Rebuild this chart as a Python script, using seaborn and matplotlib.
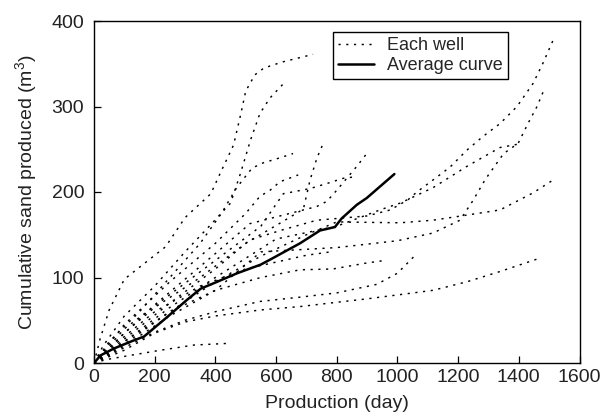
import numpy as np
import pandas as pd
import matplotlib
matplotlib.use("Agg")
import matplotlib.pyplot as plt
import seaborn as sns

# ---- data ----
well_a_day = [0, 20, 50, 100, 150, 236, 300, 385, 420, 460, 483, 500, 530, 560, 620, 722]
well_a_sand = [0, 28, 62, 98, 112, 136, 170, 198, 225, 255, 290, 318, 337, 345, 352, 361]
well_b_day = [0, 30, 100, 200, 300, 380, 450, 483, 516, 547, 580, 633]
well_b_sand = [0, 20, 55, 90, 130, 160, 187, 222, 261, 292, 310, 330]
well_c_day = [0, 50, 150, 250, 350, 420, 470, 521, 557, 613, 656]
well_c_sand = [0, 25, 60, 100, 140, 175, 205, 228, 234, 240, 245]
well_d_day = [0, 100, 200, 350, 500, 620, 690, 712, 735, 758]
well_d_sand = [0, 35, 65, 100, 140, 165, 180, 214, 240, 259]
well_e_day = [0, 100, 200, 300, 400, 514, 624, 734, 767, 800, 833, 866, 899]
well_e_sand = [0, 35, 68, 98, 128, 163, 173, 183, 189, 202, 216, 230, 245]
well_f_day = [0, 100, 250, 400, 550, 624, 712, 768, 821, 866]
well_f_sand = [0, 40, 80, 120, 160, 198, 204, 210, 216, 218]
well_g_day = [0, 100, 250, 400, 500, 547, 580, 613, 673]
well_g_sand = [0, 45, 95, 140, 175, 195, 202, 212, 220]
well_h_day = [0, 100, 250, 400, 514, 624, 734, 900, 976, 1035, 1064, 1117, 1173, 1229,
              1282, 1338, 1394, 1447, 1480, 1516]
well_h_sand = [0, 28, 70, 110, 144, 156, 167, 172, 179, 191, 200, 214, 229, 249,
               265, 280, 300, 327, 351, 380]
well_i_day = [0, 100, 250, 400, 550, 800, 1000, 1117, 1206, 1249, 1290, 1350, 1398, 1430, 1460, 1480]
well_i_sand = [0, 20, 55, 85, 130, 135, 143, 152, 167, 190, 215, 245, 257, 280, 300, 317]
well_j_day = [0, 100, 250, 400, 600, 800, 950, 1009, 1117, 1229, 1338, 1398]
well_j_sand = [0, 25, 65, 100, 145, 160, 180, 187, 205, 230, 252, 256]
well_k_day = [0, 100, 250, 400, 550, 700, 800, 1009, 1117, 1229, 1338, 1447, 1513]
well_k_sand = [0, 22, 60, 95, 125, 150, 165, 164, 167, 173, 179, 199, 214]
well_l_day = [0, 100, 200, 300, 400, 547, 679, 800, 899, 1009, 1117, 1229, 1338, 1464]
well_l_sand = [0, 15, 35, 48, 55, 62, 66, 71, 75, 80, 85, 95, 107, 122]
well_m_day = [0, 100, 200, 300, 400, 547, 679, 800, 932, 1000, 1053]
well_m_sand = [0, 18, 36, 50, 60, 72, 77, 82, 92, 105, 124]
well_n_day = [0, 40, 88, 220, 330, 444]
well_n_sand = [0, 4, 7, 15, 21, 23]
well_o_day = [0, 100, 250, 400, 550, 679, 788, 899, 960]
well_o_sand = [0, 25, 60, 85, 100, 109, 110, 117, 120]
well_p_day = [0, 80, 200, 350, 500, 600, 700, 780]
well_p_sand = [0, 25, 60, 90, 110, 118, 126, 130]

avg_day = [0, 22, 66, 121, 165, 242, 307, 352, 406, 472, 549, 586, 679, 745, 794, 816, 866, 899, 990]
avg_sand = [0, 9, 17, 25, 31, 54, 74, 87, 95, 105, 115, 122, 140, 155, 159, 169, 185, 193, 221]

wells = {
    "a": (well_a_day, well_a_sand), "b": (well_b_day, well_b_sand),
    "c": (well_c_day, well_c_sand), "d": (well_d_day, well_d_sand),
    "e": (well_e_day, well_e_sand), "f": (well_f_day, well_f_sand),
    "g": (well_g_day, well_g_sand), "h": (well_h_day, well_h_sand),
    "i": (well_i_day, well_i_sand), "j": (well_j_day, well_j_sand),
    "k": (well_k_day, well_k_sand), "l": (well_l_day, well_l_sand),
    "m": (well_m_day, well_m_sand), "n": (well_n_day, well_n_sand),
    "o": (well_o_day, well_o_sand), "p": (well_p_day, well_p_sand),
}

df = pd.concat([pd.DataFrame({"day": d, "sand": s, "well": k}) for k, (d, s) in wells.items()],
               ignore_index=True)
avg_df = pd.DataFrame({"day": avg_day, "sand": avg_sand})

# ---- style ----
sns.set_theme(style="white")
plt.rcParams["font.family"] = ["Liberation Sans", "DejaVu Sans"]
plt.rcParams["mathtext.default"] = "regular"

fig = plt.figure(figsize=(6.02, 4.18), dpi=100)
ax = fig.add_axes([94 / 602, 1 - 363 / 418, (579.5 - 94) / 602, (363 - 21) / 418])

sns.lineplot(data=df, x="day", y="sand", units="well", estimator=None, color="black",
             linewidth=1.05, linestyle=(0, (1.5, 3.8)), ax=ax, legend=False)
sns.lineplot(data=avg_df, x="day", y="sand", color="black", linewidth=1.8, ax=ax,
             legend=False)

ax.set_xlim(0, 1600)
ax.set_ylim(0, 400)
ax.set_xticks(np.arange(0, 1601, 200))
ax.set_yticks(np.arange(0, 401, 100))
ax.tick_params(axis="both", direction="in", length=5, width=0.9, color="black",
               labelsize=14, labelcolor="#222222", bottom=True, left=True, top=False, right=False)
ax.tick_params(axis="y", pad=7)
ax.tick_params(axis="x", pad=4)
for sp in ax.spines.values():
    sp.set_color("black")
    sp.set_linewidth(1.0)

ax.set_xlabel("Production (day)", fontsize=14, color="#222222", labelpad=7)
ax.set_ylabel("Cumulative sand produced (m$^3$)", fontsize=14, color="#222222", labelpad=9)

handles = [ax.lines[0], ax.lines[-1]]
leg = ax.legend(handles, ["Each well", "Average curve"], loc="upper left",
                bbox_to_anchor=(0.492, 0.968), fontsize=13, frameon=True, fancybox=False,
                framealpha=1, edgecolor="black", borderpad=0.3, labelspacing=0.15,
                handlelength=2.0, handletextpad=0.7, borderaxespad=0)
leg.get_frame().set_linewidth(1.0)

fig.savefig("out.png", dpi=100)
